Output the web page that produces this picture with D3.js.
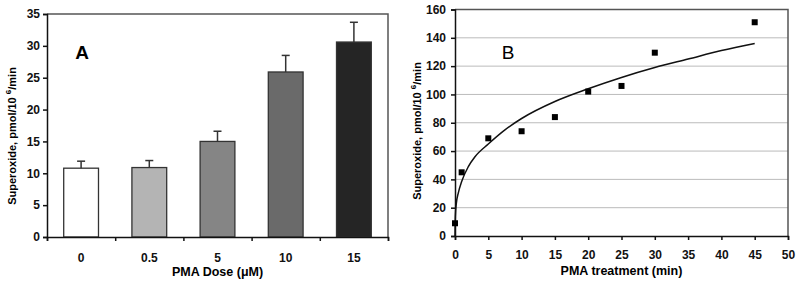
<!DOCTYPE html>
<html>
<head>
<meta charset="utf-8">
<script src="https://cdn.jsdelivr.net/npm/d3@7"></script>
<style>
  body { margin: 0; background: #fff; }
  svg text { font-family: "Liberation Sans", Arial, sans-serif; }
  .axis text { font-weight: bold; font-size: 12px; fill: #111; }
  .axis path, .axis line { stroke: #111; stroke-width: 1.5; }
</style>
</head>
<body>
<div id="chart"></div>
<script>
// panel A: superoxide by PMA dose
const doses = ["0", "0.5", "5", "10", "15"];
const doseMeans = [10.8, 10.9, 15.0, 25.9, 30.6];
const doseErrors = [1.1, 1.1, 1.6, 2.6, 3.1];
const doseColors = ["#ffffff", "#b4b4b4", "#858585", "#6a6a6a", "#252525"];
const yTicksA = [0, 5, 10, 15, 20, 25, 30, 35];

// panel B: superoxide over time
const times = [0, 1, 5, 10, 15, 20, 25, 30, 45];
const timeValues = [9, 45, 69, 74, 84, 102, 106, 129.5, 151];
// fitted trend line
const fitTimes = [0, 0.05, 0.2, 0.5, 1, 2, 3, 5, 7.5, 10, 15, 20, 25, 30, 35, 40, 45];
const fitValues = [0, 14, 23, 30.5, 38.5, 49, 56, 65, 75, 83, 95, 104, 112, 119, 125, 131, 136];
const xTicksB = [0, 5, 10, 15, 20, 25, 30, 35, 40, 45, 50];
const yTicksB = [0, 20, 40, 60, 80, 100, 120, 140, 160];

const svg = d3.select("#chart").append("svg")
    .attr("width", 800)
    .attr("height", 284);

// ---------- Panel A ----------
const a = {left: 47, right: 388, top: 14, bottom: 237};
const gA = svg.append("g");

const xA = d3.scaleBand()
    .domain(doses)
    .range([a.left, a.right])
    .paddingInner(0.49)
    .paddingOuter(0.245);
const xEdges = d3.scaleLinear().domain([0, doses.length]).range([a.left, a.right]);
const yA = d3.scaleLinear().domain([0, 35]).range([a.bottom, a.top]);

// plot frame (top + right)
gA.append("path")
    .attr("d", `M${a.left},${a.top}H${a.right}V${a.bottom}`)
    .attr("fill", "none")
    .attr("stroke", "#555")
    .attr("stroke-width", 1.5);

// bars
gA.selectAll(".bar").data(doses).enter().append("rect")
    .attr("class", "bar")
    .attr("x", d => xA(d))
    .attr("width", xA.bandwidth())
    .attr("y", (d, i) => yA(doseMeans[i]))
    .attr("height", (d, i) => yA(0) - yA(doseMeans[i]))
    .attr("fill", (d, i) => doseColors[i])
    .attr("stroke", "#333")
    .attr("stroke-width", 1.3);

// error bars (upper only)
const errs = gA.selectAll(".err").data(doses).enter().append("g")
    .attr("class", "err")
    .attr("stroke", "#333")
    .attr("stroke-width", 1.5);
errs.append("line")
    .attr("x1", d => xA(d) + xA.bandwidth() / 2)
    .attr("x2", d => xA(d) + xA.bandwidth() / 2)
    .attr("y1", (d, i) => yA(doseMeans[i]))
    .attr("y2", (d, i) => yA(doseMeans[i] + doseErrors[i]));
errs.append("line")
    .attr("x1", d => xA(d) + xA.bandwidth() / 2 - 4)
    .attr("x2", d => xA(d) + xA.bandwidth() / 2 + 4)
    .attr("y1", (d, i) => yA(doseMeans[i] + doseErrors[i]))
    .attr("y2", (d, i) => yA(doseMeans[i] + doseErrors[i]));

// axes
gA.append("g")
    .attr("class", "axis")
    .attr("transform", `translate(${a.left},0)`)
    .call(d3.axisLeft(yA).tickValues(yTicksA).tickSize(4).tickPadding(3));
gA.append("g")
    .attr("class", "axis")
    .attr("transform", `translate(0,${a.bottom})`)
    .call(d3.axisBottom(xEdges).ticks(doses.length).tickSize(4).tickFormat(""));
gA.append("g")
    .attr("class", "axis labels")
    .attr("transform", `translate(0,${a.bottom})`)
    .call(d3.axisBottom(xA).tickSize(0).tickPadding(16))
    .call(g => g.select(".domain").remove());

gA.append("text")
    .attr("x", 82).attr("y", 59)
    .attr("text-anchor", "middle")
    .attr("font-size", 19).attr("font-weight", "bold")
    .text("A");

gA.append("text")
    .attr("x", (a.left + a.right) / 2).attr("y", 276)
    .attr("text-anchor", "middle")
    .attr("font-size", 12.5).attr("font-weight", "bold")
    .text("PMA Dose (\u03bcM)");

const titleA = gA.append("text")
    .attr("transform", "translate(16,136) rotate(-90)")
    .attr("text-anchor", "middle")
    .attr("font-size", 11).attr("font-weight", "bold");
titleA.append("tspan").text("Superoxide, pmol/10 ");
titleA.append("tspan").attr("dy", -5).attr("font-size", 8).text("6");
titleA.append("tspan").attr("dy", 5).text("/min");

// ---------- Panel B ----------
const b = {left: 455, right: 788, top: 9.5, bottom: 236};
const gB = svg.append("g");

const xB = d3.scaleLinear().domain([0, 50]).range([b.left, b.right]);
const yB = d3.scaleLinear().domain([0, 160]).range([b.bottom, b.top]);

// gridlines
gB.selectAll(".grid").data(yTicksB.slice(1, -1)).enter().append("line")
    .attr("x1", b.left).attr("x2", b.right)
    .attr("y1", d => yB(d)).attr("y2", d => yB(d))
    .attr("stroke", "#bbb")
    .attr("stroke-width", 1);

gB.append("path")
    .attr("d", `M${b.left},${b.top}H${b.right}V${b.bottom}`)
    .attr("fill", "none")
    .attr("stroke", "#555")
    .attr("stroke-width", 1.5);

gB.append("g")
    .attr("class", "axis")
    .attr("transform", `translate(${b.left},0)`)
    .call(d3.axisLeft(yB).tickValues(yTicksB).tickSize(4).tickPadding(5));
gB.append("g")
    .attr("class", "axis")
    .attr("transform", `translate(0,${b.bottom})`)
    .call(d3.axisBottom(xB).tickValues(xTicksB).tickSize(4).tickPadding(10));

// fit line
gB.append("path")
    .datum(fitTimes.map((t, i) => [t, fitValues[i]]))
    .attr("fill", "none")
    .attr("stroke", "#111")
    .attr("stroke-width", 1.5)
    .attr("d", d3.line()
        .x(d => xB(d[0]))
        .y(d => yB(d[1]))
        .curve(d3.curveMonotoneX));

// points
gB.selectAll(".pt").data(times).enter().append("rect")
    .attr("class", "pt")
    .attr("x", d => xB(d) - 3)
    .attr("y", (d, i) => yB(timeValues[i]) - 3)
    .attr("width", 6)
    .attr("height", 6)
    .attr("fill", "#000");

gB.append("text")
    .attr("x", 508).attr("y", 59)
    .attr("text-anchor", "middle")
    .attr("font-size", 19)
    .text("B");

gB.append("text")
    .attr("x", (b.left + b.right) / 2).attr("y", 275)
    .attr("text-anchor", "middle")
    .attr("font-size", 12.5).attr("font-weight", "bold")
    .text("PMA treatment (min)");

const titleB = gB.append("text")
    .attr("transform", "translate(421,131) rotate(-90)")
    .attr("text-anchor", "middle")
    .attr("font-size", 11).attr("font-weight", "bold");
titleB.append("tspan").text("Superoxide, pmol/10 ");
titleB.append("tspan").attr("dy", -5).attr("font-size", 8).text("6");
titleB.append("tspan").attr("dy", 5).text("/min");
</script>
</body>
</html>
